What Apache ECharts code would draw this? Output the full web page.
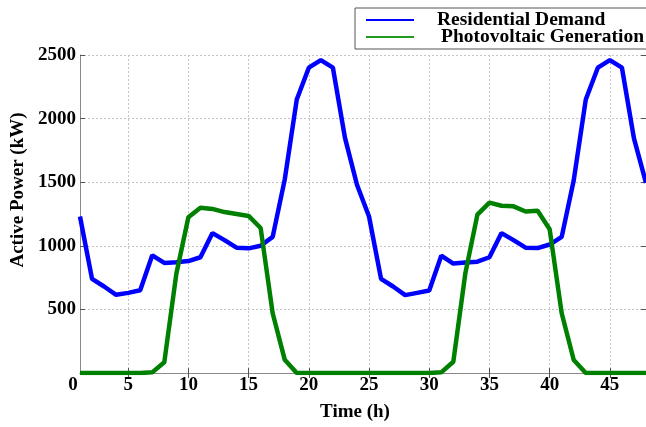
<!DOCTYPE html>
<html>
<head>
<meta charset="utf-8">
<script src="https://cdn.jsdelivr.net/npm/echarts@6/dist/echarts.min.js"></script>
<style>html,body{margin:0;padding:0;background:#fff}#c{width:646px;height:427px}</style>
</head>
<body>
<div id="c"></div>
<script>
const hours = [1,2,3,4,5,6,7,8,9,10,11,12,13,14,15,16,17,18,19,20,21,22,23,24,
               25,26,27,28,29,30,31,32,33,34,35,36,37,38,39,40,41,42,43,44,45,46,47,48];
const residentialDemand = [1230,740,680,615,630,650,925,865,870,880,910,1100,1045,985,980,1000,1070,1520,2150,2400,2460,2400,1850,1480,
                           1230,740,680,612,630,648,922,860,868,875,910,1100,1045,985,982,1010,1070,1515,2150,2400,2460,2400,1845,1495];
const pvGeneration = [0,0,0,0,0,0,5,85,780,1225,1300,1290,1265,1250,1235,1140,470,105,0,0,0,0,0,0,
                      0,0,0,0,0,0,5,88,785,1245,1340,1315,1310,1270,1275,1130,470,102,0,0,0,0,0,0];
const xTickValues = [1,5,10,15,20,25,30,35,40,45];
const xTickLabels = ['0','5','10','15','20','25','30','35','40','45'];
const xGridValues = [5,10,15,20,25,30,35,40,45];
const seriesNames = ['Residential Demand','Photovoltaic Generation'];

const FONT = 'Liberation Serif';
const chart = echarts.init(document.getElementById('c'), null, {renderer:'canvas'});
const pairs = (ys) => hours.map((h,i)=>[h, ys[i]]);
const axisGray = '#8a8a8a';

chart.setOption({
  animation: false,
  backgroundColor: '#fff',
  grid: {left: 80, right: 0, top: 55, bottom: 54},
  legend: {
    left: 355, top: 8, orient: 'vertical',
    backgroundColor: '#fff', borderColor: '#555', borderWidth: 1, borderRadius: 0,
    padding: [2, 12, 2, 11], itemGap: -3, itemWidth: 48, itemHeight: 2, icon: 'rect',
    textStyle: {fontFamily: FONT, fontWeight: 'bold', fontSize: 19.5, color: '#000', lineHeight: 17},
    data: [
      {name: seriesNames[0], textStyle: {padding: [0,0,0,18]}},
      {name: seriesNames[1], textStyle: {padding: [0,0,0,22]}}
    ]
  },
  xAxis: [{
    type: 'value', position: 'bottom', min: 1, max: 48,
    name: 'Time (h)', nameLocation: 'middle', nameGap: 30,
    nameTextStyle: {fontFamily: FONT, fontWeight: 'bold', fontSize: 19, color: '#000', padding: [0,16,0,0]},
    axisLine: {show: true, lineStyle: {color: axisGray, width: 1}},
    axisTick: {show: true, inside: true, length: 5, customValues: xGridValues, lineStyle: {color: '#555'}},
    axisLabel: {
      customValues: xTickValues, margin: 3,
      fontFamily: FONT, fontWeight: 'bold', fontSize: 19, color: '#000',
      formatter: (v) => { const i = xTickValues.indexOf(v); const t = i >= 0 ? xTickLabels[i] : ''; return v === 1 ? '{z|' + t + '}' : t; },
      rich: {z: {fontFamily: FONT, fontWeight: 'bold', fontSize: 19, color: '#000', padding: [0,14,0,0]}}
    },
    splitLine: {show: true, lineStyle: {color: '#c4c4c4', type: [2,2], width: 1}}
  },{
    type: 'value', position: 'top', min: 1, max: 48,
    axisLine: {show: true, lineStyle: {color: axisGray, width: 1}},
    axisTick: {show: true, inside: true, length: 5, customValues: xGridValues, lineStyle: {color: '#555'}},
    axisLabel: {show: false}, splitLine: {show: false}
  }],
  yAxis: [{
    type: 'value', position: 'left', min: 0, max: 2500, interval: 500,
    name: 'Active Power (kW)', nameLocation: 'middle', nameGap: 48,
    nameTextStyle: {fontFamily: FONT, fontWeight: 'bold', fontSize: 19, color: '#000', padding: [0,0,0,48]},
    axisLine: {show: true, lineStyle: {color: axisGray, width: 1}},
    axisTick: {show: true, inside: true, length: 5, lineStyle: {color: '#555'}},
    axisLabel: {showMinLabel: false, margin: 4, fontFamily: FONT, fontWeight: 'bold', fontSize: 19, color: '#000',
      formatter: (v) => v === 0 ? '' : String(v)},
    splitLine: {show: true, lineStyle: {color: '#c4c4c4', type: [2,2], width: 1}}
  },{
    type: 'value', position: 'right', min: 0, max: 2500, interval: 500,
    axisLine: {show: false},
    axisTick: {show: true, inside: true, length: 5, lineStyle: {color: '#555'}},
    axisLabel: {show: false}, splitLine: {show: false}
  }],
  series: [
    {name: seriesNames[0], type: 'line', data: pairs(residentialDemand), showSymbol: false, symbol: 'none',
     lineStyle: {color: '#0000ff', width: 4.5}, itemStyle: {color: '#0000ff'}, xAxisIndex: 0, yAxisIndex: 0},
    {name: seriesNames[1], type: 'line', data: pairs(pvGeneration), showSymbol: false, symbol: 'none',
     lineStyle: {color: '#008000', width: 4.5}, itemStyle: {color: '#1f9a1f'}, xAxisIndex: 0, yAxisIndex: 0}
  ]
});
</script>
</body>
</html>
